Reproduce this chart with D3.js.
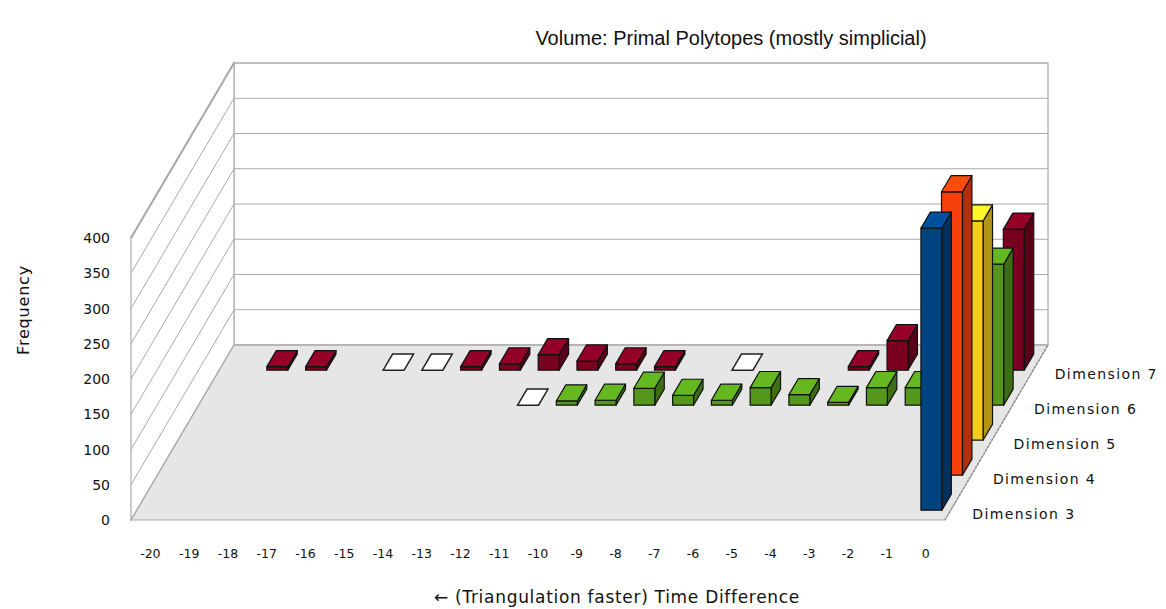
<!DOCTYPE html>
<html><head><meta charset="utf-8">
<script src="https://cdn.jsdelivr.net/npm/d3@7"></script>
<style>html,body{margin:0;padding:0;background:#fff;} svg{display:block;}</style>
</head><body><svg id="chart" width="1166" height="609"></svg>
<script>
// ---- data ----
const categories = ["-20","-19","-18","-17","-16","-15","-14","-13","-12","-11","-10","-9","-8","-7","-6","-5","-4","-3","-2","-1","0"];
const seriesNames = ["Dimension 3","Dimension 4","Dimension 5","Dimension 6","Dimension 7"];
const dim3 = [null,null,null,null,null,null,null,null,null,null,null,null,null,null,null,null,null,null,null,null,400];
const dim4 = [null,null,null,null,null,null,null,null,null,null,null,null,null,null,null,null,null,null,null,null,402];
const dim5 = [null,null,null,null,null,null,null,null,null,null,null,null,null,null,null,null,null,null,null,null,311];
const dim6 = [null,null,null,null,null,null,null,null,0,6,7,24,14,7,25,15,4,25,25,null,200];
const dim7 = [null,5,5,null,0,0,5,9,22,13,9,5,null,0,null,null,5,42,null,null,200];
const yTicks = [0,50,100,150,200,250,300,350,400];
const seriesColors = ["#004586","#ff420e","#ffd320","#579d1c","#7e0021"];
const titleText = "Volume: Primal Polytopes (mostly simplicial)";
const yTitle = "Frequency";
const xTitle = "\u2190 (Triangulation faster) Time Difference";

// ---- layout ----
const allSeries = [dim3, dim4, dim5, dim6, dim7];
const floorLeft = 131, floorRight = 945, floorFront = 520;
const depthDX = 103, depthDY = 175;
const svg = d3.select("#chart");
const x = d3.scaleBand().domain(categories).range([floorLeft, floorRight]);
const z = d3.scaleBand().domain(seriesNames).range([0, 1]);
const y = d3.scaleLinear().domain([0, 400]).range([0, 282]);
function P(px, v, zf) { return [px + zf * depthDX, floorFront - y(v) - zf * depthDY]; }
const poly = pts => pts.map(p => p.join(",")).join(" ");
const gridColor = "#aaaaaa";

const g = svg.append("g");
// back wall
g.append("polygon").attr("points", poly([P(floorLeft,0,1),P(floorRight,0,1),P(floorRight,400,1),P(floorLeft,400,1)]))
  .attr("fill","#fff").attr("stroke",gridColor).attr("stroke-width",1.2);
// left wall
g.append("polygon").attr("points", poly([P(floorLeft,0,0),P(floorLeft,0,1),P(floorLeft,400,1),P(floorLeft,400,0)]))
  .attr("fill","#fff").attr("stroke",gridColor).attr("stroke-width",1.2);
g.append("line").attr("x1",P(floorLeft,400,0)[0]).attr("y1",P(floorLeft,400,0)[1])
  .attr("x2",P(floorLeft,400,1)[0]).attr("y2",P(floorLeft,400,1)[1])
  .attr("stroke",gridColor).attr("stroke-width",2);
// floor
g.append("polygon").attr("points", poly([P(floorLeft,0,0),P(floorRight,0,0),P(floorRight,0,1),P(floorLeft,0,1)]))
  .attr("fill","#e6e6e6").attr("stroke",gridColor).attr("stroke-width",1.2);
g.append("line").attr("x1",P(floorRight,0,0)[0]).attr("y1",P(floorRight,0,0)[1])
  .attr("x2",P(floorRight,0,1)[0]).attr("y2",P(floorRight,0,1)[1])
  .attr("stroke","#808080").attr("stroke-width",1.2).attr("stroke-dasharray","2,2");
// gridlines
yTicks.forEach(v => {
  const a = P(floorLeft,v,1), b = P(floorRight,v,1), c = P(floorLeft,v,0);
  g.append("line").attr("x1",a[0]).attr("y1",a[1]).attr("x2",b[0]).attr("y2",b[1]).attr("stroke",gridColor).attr("stroke-width",1.2);
  g.append("line").attr("x1",c[0]).attr("y1",c[1]).attr("x2",a[0]).attr("y2",a[1]).attr("stroke",gridColor).attr("stroke-width",1);
});

// bars: back rows first, left to right
const barsG = svg.append("g");
for (let s = seriesNames.length - 1; s >= 0; s--) {
  const name = seriesNames[s];
  const base = d3.color(seriesColors[s]);
  const topC = base.brighter(0.45).formatHex();
  const sideC = base.darker(1.0).formatHex();
  const frontC = base.darker(0.1).formatHex();
  const z0 = z(name) + 0.28 * z.bandwidth(), z1 = z(name) + 0.74 * z.bandwidth();
  categories.forEach((cat, i) => {
    const v = allSeries[s][i];
    if (v === null || v === undefined) return;
    const x0 = x(cat) + 0.23 * x.bandwidth(), x1 = x(cat) + 0.77 * x.bandwidth();
    const bg = barsG.append("g");
    if (v === 0) {
      bg.append("polygon").attr("points", poly([P(x0,0,z0),P(x1,0,z0),P(x1,0,z1),P(x0,0,z1)]))
        .attr("fill","#fff").attr("stroke","#222").attr("stroke-width",1.5);
      return;
    }
    const faces = [
      {pts:[P(x1,0,z0),P(x1,0,z1),P(x1,v,z1),P(x1,v,z0)], fill: sideC},
      {pts:[P(x0,0,z0),P(x1,0,z0),P(x1,v,z0),P(x0,v,z0)], fill: frontC},
      {pts:[P(x0,v,z0),P(x1,v,z0),P(x1,v,z1),P(x0,v,z1)], fill: topC}
    ];
    faces.forEach(f => {
      bg.append("polygon").attr("points", poly(f.pts)).attr("fill", f.fill)
        .attr("stroke","#111").attr("stroke-width",1.2).attr("stroke-linejoin","round");
    });
  });
}

// ---- text ----
const font = "DejaVu Sans, sans-serif";
svg.append("text").attr("x",731).attr("y",45).attr("text-anchor","middle")
  .attr("font-family","Liberation Sans, Arial, sans-serif").attr("font-size",20).attr("fill","#111").text(titleText);
yTicks.forEach(v => {
  svg.append("text").attr("x",110).attr("y",P(floorLeft,v,0)[1]+1).attr("text-anchor","end")
    .attr("dominant-baseline","middle").attr("font-family",font).attr("font-size",14).attr("fill","#111").text(v);
});
categories.forEach(cat => {
  svg.append("text").attr("x",x(cat)+x.bandwidth()/2).attr("y",554).attr("text-anchor","middle")
    .attr("dominant-baseline","middle").attr("font-family",font).attr("font-size",12.5).attr("fill","#111").text(cat);
});
seriesNames.forEach(name => {
  const p = P(floorRight, 0, z(name) + z.bandwidth()/2);
  svg.append("text").attr("x",p[0]+17).attr("y",p[1]+12).attr("dominant-baseline","middle")
    .attr("font-family",font).attr("font-size",14).attr("letter-spacing",1.4).attr("fill","#111").text(name);
});
svg.append("text").attr("transform","translate(24,310) rotate(-90)").attr("text-anchor","middle")
  .attr("dominant-baseline","middle").attr("font-family",font).attr("font-size",16).attr("letter-spacing",0.8).attr("fill","#111").text(yTitle);
svg.append("text").attr("x",617).attr("y",598).attr("text-anchor","middle").attr("dominant-baseline","middle")
  .attr("font-family",font).attr("font-size",17).attr("letter-spacing",0.7).attr("fill","#111").text(xTitle);
</script></body></html>
